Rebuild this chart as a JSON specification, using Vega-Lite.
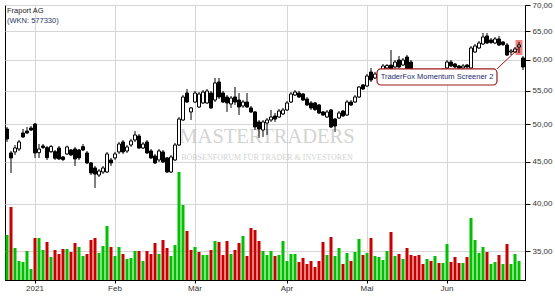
{
  "$schema": "https://vega.github.io/schema/vega-lite/v6.json",
  "width": 520,
  "height": 275,
  "autosize": "none",
  "padding": {"left": 5, "top": 5, "right": 30, "bottom": 20},
  "background": "#ffffff",
  "config": {
    "view": {"stroke": "#000000", "strokeWidth": 1},
    "axis": {"labelFont": "Liberation Sans", "labelFontSize": 8, "labelColor": "#333333", "gridColor": "#d6d6d6", "domainColor": "#000000", "tickColor": "#000000"}
  },
  "data": {"values": [
    {"d":"2020-12-18","o":49.36,"h":49.64,"l":47.59,"c":48.00,"v":450000},
    {"d":"2020-12-21","o":46.14,"h":46.40,"l":43.61,"c":45.50,"v":730000},
    {"d":"2020-12-22","o":46.27,"h":47.19,"l":45.88,"c":46.79,"v":320000},
    {"d":"2020-12-23","o":46.66,"h":47.86,"l":46.40,"c":47.59,"v":190000},
    {"d":"2020-12-28","o":48.81,"h":49.36,"l":48.13,"c":48.27,"v":180000},
    {"d":"2020-12-29","o":49.08,"h":49.64,"l":48.68,"c":48.81,"v":290000},
    {"d":"2020-12-30","o":49.50,"h":49.78,"l":49.08,"c":49.22,"v":110000},
    {"d":"2021-01-04","o":50.06,"h":50.20,"l":45.50,"c":46.14,"v":420000},
    {"d":"2021-01-05","o":46.18,"h":47.32,"l":45.50,"c":46.66,"v":420000},
    {"d":"2021-01-06","o":47.06,"h":47.32,"l":46.66,"c":46.86,"v":300000},
    {"d":"2021-01-07","o":46.83,"h":47.06,"l":45.24,"c":45.53,"v":380000},
    {"d":"2021-01-08","o":46.31,"h":47.19,"l":46.14,"c":46.97,"v":230000},
    {"d":"2021-01-11","o":46.31,"h":46.53,"l":45.24,"c":45.46,"v":300000},
    {"d":"2021-01-12","o":46.79,"h":47.06,"l":45.24,"c":45.37,"v":260000},
    {"d":"2021-01-13","o":45.62,"h":45.75,"l":45.11,"c":45.30,"v":310000},
    {"d":"2021-01-14","o":46.01,"h":47.10,"l":45.88,"c":46.93,"v":310000},
    {"d":"2021-01-15","o":46.53,"h":46.66,"l":45.75,"c":45.88,"v":280000},
    {"d":"2021-01-18","o":46.66,"h":46.93,"l":44.48,"c":45.37,"v":370000},
    {"d":"2021-01-19","o":46.53,"h":46.66,"l":45.24,"c":45.50,"v":330000},
    {"d":"2021-01-20","o":46.97,"h":47.32,"l":46.40,"c":46.53,"v":240000},
    {"d":"2021-01-21","o":46.14,"h":46.40,"l":44.73,"c":44.86,"v":260000},
    {"d":"2021-01-22","o":44.86,"h":44.98,"l":43.36,"c":43.61,"v":400000},
    {"d":"2021-01-25","o":44.23,"h":44.48,"l":41.81,"c":43.48,"v":420000},
    {"d":"2021-01-26","o":43.36,"h":44.10,"l":43.12,"c":43.86,"v":270000},
    {"d":"2021-01-27","o":43.73,"h":44.48,"l":43.48,"c":44.23,"v":340000},
    {"d":"2021-01-28","o":43.73,"h":46.27,"l":43.61,"c":46.01,"v":540000},
    {"d":"2021-01-29","o":45.24,"h":45.50,"l":44.48,"c":44.86,"v":330000},
    {"d":"2021-02-01","o":45.50,"h":46.27,"l":45.24,"c":46.01,"v":240000},
    {"d":"2021-02-02","o":46.27,"h":47.59,"l":46.01,"c":47.32,"v":330000},
    {"d":"2021-02-03","o":47.59,"h":47.86,"l":46.01,"c":46.27,"v":260000},
    {"d":"2021-02-04","o":46.40,"h":47.19,"l":46.14,"c":46.93,"v":210000},
    {"d":"2021-02-05","o":47.19,"h":48.00,"l":46.93,"c":47.73,"v":220000},
    {"d":"2021-02-08","o":47.86,"h":49.08,"l":47.59,"c":48.54,"v":290000},
    {"d":"2021-02-09","o":48.40,"h":48.68,"l":46.66,"c":46.79,"v":290000},
    {"d":"2021-02-10","o":46.79,"h":47.59,"l":46.66,"c":47.32,"v":190000},
    {"d":"2021-02-11","o":47.59,"h":47.86,"l":46.01,"c":46.14,"v":290000},
    {"d":"2021-02-12","o":46.40,"h":46.66,"l":45.37,"c":45.50,"v":260000},
    {"d":"2021-02-15","o":45.75,"h":46.01,"l":44.73,"c":44.86,"v":370000},
    {"d":"2021-02-16","o":45.24,"h":46.66,"l":44.98,"c":46.40,"v":260000},
    {"d":"2021-02-17","o":46.27,"h":46.53,"l":44.86,"c":44.98,"v":400000},
    {"d":"2021-02-18","o":45.50,"h":45.62,"l":43.61,"c":43.73,"v":320000},
    {"d":"2021-02-19","o":43.73,"h":45.88,"l":43.61,"c":45.62,"v":240000},
    {"d":"2021-02-22","o":45.24,"h":47.46,"l":45.11,"c":47.19,"v":350000},
    {"d":"2021-02-23","o":47.19,"h":51.06,"l":47.06,"c":50.77,"v":1080000},
    {"d":"2021-02-24","o":50.63,"h":54.32,"l":50.49,"c":54.02,"v":750000},
    {"d":"2021-02-25","o":54.63,"h":55.25,"l":53.12,"c":53.26,"v":490000},
    {"d":"2021-02-26","o":51.79,"h":52.52,"l":50.63,"c":52.38,"v":300000},
    {"d":"2021-03-01","o":53.26,"h":54.94,"l":53.12,"c":54.63,"v":330000},
    {"d":"2021-03-02","o":52.52,"h":54.78,"l":52.38,"c":54.48,"v":280000},
    {"d":"2021-03-03","o":53.12,"h":55.09,"l":52.97,"c":54.78,"v":250000},
    {"d":"2021-03-04","o":53.12,"h":55.25,"l":52.97,"c":54.94,"v":250000},
    {"d":"2021-03-05","o":54.63,"h":54.94,"l":52.23,"c":52.38,"v":300000},
    {"d":"2021-03-08","o":53.56,"h":56.99,"l":53.26,"c":56.20,"v":390000},
    {"d":"2021-03-09","o":56.35,"h":56.99,"l":53.71,"c":54.02,"v":380000},
    {"d":"2021-03-10","o":54.63,"h":54.94,"l":53.12,"c":53.26,"v":250000},
    {"d":"2021-03-11","o":54.02,"h":54.32,"l":51.79,"c":53.12,"v":390000},
    {"d":"2021-03-12","o":52.97,"h":54.17,"l":52.38,"c":53.86,"v":260000},
    {"d":"2021-03-15","o":54.02,"h":55.56,"l":52.82,"c":53.26,"v":300000},
    {"d":"2021-03-16","o":53.56,"h":54.63,"l":51.35,"c":52.52,"v":370000},
    {"d":"2021-03-17","o":52.67,"h":53.56,"l":52.38,"c":53.26,"v":440000},
    {"d":"2021-03-18","o":53.26,"h":54.63,"l":52.38,"c":52.52,"v":240000},
    {"d":"2021-03-19","o":52.38,"h":52.67,"l":51.64,"c":51.79,"v":520000},
    {"d":"2021-03-22","o":51.79,"h":51.93,"l":49.22,"c":49.64,"v":500000},
    {"d":"2021-03-23","o":50.35,"h":50.63,"l":48.13,"c":49.36,"v":390000},
    {"d":"2021-03-24","o":49.22,"h":50.63,"l":48.27,"c":50.35,"v":290000},
    {"d":"2021-03-25","o":50.20,"h":50.92,"l":48.54,"c":50.63,"v":250000},
    {"d":"2021-03-26","o":50.63,"h":52.08,"l":50.35,"c":51.06,"v":290000},
    {"d":"2021-03-29","o":51.21,"h":51.64,"l":50.35,"c":50.77,"v":240000},
    {"d":"2021-03-30","o":51.06,"h":52.23,"l":50.92,"c":51.93,"v":250000},
    {"d":"2021-03-31","o":51.50,"h":52.38,"l":51.35,"c":52.08,"v":390000},
    {"d":"2021-04-01","o":52.08,"h":53.41,"l":51.93,"c":53.12,"v":190000},
    {"d":"2021-04-06","o":53.26,"h":54.78,"l":53.12,"c":54.48,"v":260000},
    {"d":"2021-04-07","o":54.32,"h":55.09,"l":54.17,"c":54.78,"v":260000},
    {"d":"2021-04-08","o":54.63,"h":54.94,"l":53.86,"c":54.02,"v":180000},
    {"d":"2021-04-09","o":54.48,"h":54.63,"l":53.41,"c":53.56,"v":220000},
    {"d":"2021-04-12","o":53.71,"h":54.02,"l":52.67,"c":52.82,"v":160000},
    {"d":"2021-04-13","o":53.12,"h":53.41,"l":52.08,"c":52.38,"v":190000},
    {"d":"2021-04-14","o":53.12,"h":53.26,"l":51.93,"c":52.16,"v":130000},
    {"d":"2021-04-15","o":52.82,"h":52.97,"l":51.50,"c":51.64,"v":190000},
    {"d":"2021-04-16","o":51.79,"h":51.93,"l":51.21,"c":51.35,"v":380000},
    {"d":"2021-04-19","o":51.06,"h":52.08,"l":50.92,"c":51.79,"v":250000},
    {"d":"2021-04-20","o":52.08,"h":52.23,"l":49.50,"c":49.64,"v":430000},
    {"d":"2021-04-21","o":50.77,"h":50.92,"l":48.95,"c":49.78,"v":240000},
    {"d":"2021-04-22","o":50.92,"h":51.93,"l":50.77,"c":51.64,"v":320000},
    {"d":"2021-04-23","o":51.93,"h":52.08,"l":51.06,"c":51.21,"v":160000},
    {"d":"2021-04-26","o":51.35,"h":53.56,"l":51.21,"c":53.26,"v":270000},
    {"d":"2021-04-27","o":53.26,"h":53.56,"l":52.67,"c":52.82,"v":190000},
    {"d":"2021-04-28","o":53.26,"h":54.32,"l":53.12,"c":54.02,"v":280000},
    {"d":"2021-04-29","o":54.02,"h":55.72,"l":53.86,"c":55.56,"v":410000},
    {"d":"2021-04-30","o":55.88,"h":56.04,"l":55.09,"c":55.25,"v":250000},
    {"d":"2021-05-03","o":55.72,"h":57.63,"l":55.56,"c":57.31,"v":270000},
    {"d":"2021-05-04","o":57.96,"h":58.62,"l":56.35,"c":56.67,"v":420000},
    {"d":"2021-05-05","o":56.99,"h":57.96,"l":56.83,"c":57.63,"v":240000},
    {"d":"2021-05-06","o":57.31,"h":58.46,"l":57.15,"c":58.13,"v":230000},
    {"d":"2021-05-07","o":58.13,"h":59.28,"l":57.96,"c":58.95,"v":200000},
    {"d":"2021-05-10","o":58.62,"h":59.28,"l":58.29,"c":59.03,"v":290000},
    {"d":"2021-05-11","o":59.11,"h":61.67,"l":57.96,"c":58.29,"v":480000},
    {"d":"2021-05-12","o":58.78,"h":59.95,"l":58.62,"c":59.61,"v":240000},
    {"d":"2021-05-13","o":59.95,"h":60.63,"l":58.62,"c":58.78,"v":260000},
    {"d":"2021-05-14","o":59.11,"h":60.29,"l":58.95,"c":59.95,"v":210000},
    {"d":"2021-05-17","o":60.46,"h":60.80,"l":58.13,"c":58.29,"v":320000},
    {"d":"2021-05-18","o":59.61,"h":59.95,"l":57.80,"c":57.96,"v":250000},
    {"d":"2021-05-19","o":58.13,"h":58.29,"l":57.31,"c":57.63,"v":240000},
    {"d":"2021-05-20","o":57.80,"h":57.96,"l":56.99,"c":57.31,"v":250000},
    {"d":"2021-05-21","o":57.47,"h":57.63,"l":56.83,"c":57.15,"v":160000},
    {"d":"2021-05-25","o":57.15,"h":57.80,"l":56.99,"c":57.63,"v":210000},
    {"d":"2021-05-26","o":57.63,"h":57.96,"l":57.15,"c":57.31,"v":190000},
    {"d":"2021-05-27","o":57.31,"h":58.29,"l":57.15,"c":57.96,"v":240000},
    {"d":"2021-05-28","o":57.96,"h":58.29,"l":57.31,"c":57.47,"v":170000},
    {"d":"2021-05-31","o":57.63,"h":58.62,"l":57.47,"c":58.29,"v":170000},
    {"d":"2021-06-01","o":58.62,"h":59.95,"l":58.29,"c":59.61,"v":360000},
    {"d":"2021-06-02","o":59.61,"h":59.95,"l":58.78,"c":58.95,"v":180000},
    {"d":"2021-06-03","o":59.28,"h":59.45,"l":58.62,"c":58.78,"v":230000},
    {"d":"2021-06-04","o":58.95,"h":59.11,"l":58.29,"c":58.62,"v":170000},
    {"d":"2021-06-07","o":58.62,"h":59.28,"l":58.46,"c":58.95,"v":170000},
    {"d":"2021-06-08","o":59.11,"h":59.28,"l":58.46,"c":58.78,"v":230000},
    {"d":"2021-06-09","o":58.62,"h":62.37,"l":58.46,"c":62.02,"v":620000},
    {"d":"2021-06-10","o":61.32,"h":62.72,"l":61.15,"c":62.37,"v":400000},
    {"d":"2021-06-11","o":62.02,"h":63.25,"l":61.84,"c":62.89,"v":270000},
    {"d":"2021-06-14","o":62.72,"h":64.69,"l":62.54,"c":63.97,"v":330000},
    {"d":"2021-06-15","o":64.15,"h":64.69,"l":62.72,"c":62.89,"v":280000},
    {"d":"2021-06-16","o":63.43,"h":63.79,"l":62.72,"c":62.99,"v":160000},
    {"d":"2021-06-17","o":62.89,"h":63.97,"l":62.72,"c":63.61,"v":180000},
    {"d":"2021-06-18","o":63.61,"h":64.15,"l":62.37,"c":62.54,"v":250000},
    {"d":"2021-06-21","o":63.07,"h":63.25,"l":62.37,"c":62.63,"v":160000},
    {"d":"2021-06-22","o":62.54,"h":62.89,"l":60.63,"c":60.80,"v":360000},
    {"d":"2021-06-23","o":61.32,"h":61.84,"l":60.80,"c":61.50,"v":160000},
    {"d":"2021-06-24","o":61.32,"h":62.19,"l":61.15,"c":61.84,"v":260000},
    {"d":"2021-06-25","o":62.19,"h":63.07,"l":61.15,"c":62.54,"v":190000},
    {"d":"2021-06-28","o":60.29,"h":60.63,"l":58.29,"c":58.78,"v":null}
  ]},
  "encoding": {
    "x": {
      "field": "d", "type": "ordinal", "title": null,
      "scale": {"type": "band", "paddingInner": 0, "paddingOuter": 0},
      "axis": {
        "title": null,
        "values": ["2021-01-04", "2021-02-01", "2021-03-01", "2021-04-01", "2021-05-03", "2021-06-01"],
        "labelExpr": "datum.value == '2021-01-04' ? '2021' : datum.value == '2021-02-01' ? 'Feb' : datum.value == '2021-03-01' ? 'Mär' : datum.value == '2021-04-01' ? 'Apr' : datum.value == '2021-05-03' ? 'Mai' : 'Jun'",
        "labelAngle": 0, "grid": true, "tickSize": 3, "labelPadding": 1
      }
    }
  },
  "layer": [
    {
      "transform": [{"window": [{"op": "lag", "field": "c", "as": "pc"}], "sort": [{"field": "d", "order": "ascending"}]}],
      "mark": {"type": "bar", "width": 3},
      "encoding": {
        "y": {"field": "v", "type": "quantitative", "title": null, "scale": {"domain": [0, 2750000]}, "axis": null},
        "color": {"condition": {"test": "datum.pc == null || datum.c >= datum.pc", "value": "#00c000"}, "value": "#c80000"}
      }
    },
    {
      "layer": [
        {
          "data": {"values": [{}]},
          "mark": {"type": "text", "text": "MASTERTRADERS", "font": "Liberation Serif", "fontSize": 20.5, "fill": "#a8a8a8", "opacity": 0.5, "align": "center", "baseline": "alphabetic"},
          "encoding": {"x": {"datum": "2021-03-25"}, "y": {"datum": 47.46}}
        },
        {
          "data": {"values": [{}]},
          "mark": {"type": "text", "text": "BÖRSENFORUM FÜR TRADER & INVESTOREN", "font": "Liberation Serif", "fontSize": 8, "letterSpacing": 0.5, "fill": "#a8a8a8", "opacity": 0.5, "align": "center", "baseline": "alphabetic"},
          "encoding": {"x": {"datum": "2021-03-25"}, "y": {"datum": 45.24}}
        },
        {
          "data": {"values": [{}]},
          "mark": {"type": "bar", "width": 7, "fill": "#f06c6c", "opacity": 0.85},
          "encoding": {"x": {"datum": "2021-06-25"}, "y": {"datum": 63.43}, "y2": {"datum": 60.8}}
        },
        {
          "mark": {"type": "rule", "color": "#000000", "strokeWidth": 1},
          "encoding": {
            "y": {"field": "l", "type": "quantitative", "title": null,
              "scale": {"type": "log", "domain": [32.26, 70], "nice": false, "zero": false},
              "axis": {"orient": "right", "title": null, "values": [35, 40, 45, 50, 55, 60, 65, 70], "labelExpr": "replace(format(datum.value, '.2f'), '.', ',')", "grid": true, "tickSize": 5, "labelPadding": 2, "labelFlush": false, "labelOverlap": false}},
            "y2": {"field": "h"}
          }
        },
        {
          "mark": {"type": "bar", "width": 3, "stroke": "#000000", "strokeWidth": 1},
          "encoding": {
            "y": {"field": "o", "type": "quantitative", "title": null},
            "y2": {"field": "c"},
            "fill": {"condition": {"test": "datum.c >= datum.o", "value": "#ffffff"}, "value": "#000000"}
          }
        },
        {
          "data": {"values": [{}]},
          "mark": {"type": "rule", "color": "#a01818", "strokeWidth": 1},
          "encoding": {"x": {"datum": "2021-06-18", "bandPosition": 0}, "y": {"datum": 58.46}, "x2": {"datum": "2021-06-25"}, "y2": {"datum": 62.0}}
        },
        {
          "data": {"values": [{}]},
          "mark": {"type": "rect", "fill": "#ffffff", "stroke": "#a01818", "strokeWidth": 1.2, "cornerRadius": 4},
          "encoding": {"x": {"datum": "2021-05-06", "bandPosition": 0}, "x2": {"datum": "2021-06-18", "bandPosition": 0}, "y": {"datum": 58.46}, "y2": {"datum": 55.88}}
        },
        {
          "data": {"values": [{}]},
          "mark": {"type": "text", "text": "TraderFox Momentum Screener 2", "font": "Liberation Sans", "fontSize": 7.5, "fill": "#1e2a6e", "align": "center", "baseline": "middle"},
          "encoding": {"x": {"datum": "2021-05-27", "bandPosition": 1}, "y": {"datum": 57.15}}
        },
        {
          "data": {"values": [{}]},
          "mark": {"type": "text", "text": "Fraport AG", "font": "Liberation Sans", "fontSize": 7.5, "fill": "#222222", "align": "left", "baseline": "top"},
          "encoding": {"x": {"datum": "2020-12-18"}, "y": {"datum": 69.61}}
        },
        {
          "data": {"values": [{}]},
          "mark": {"type": "text", "text": "(WKN: 577330)", "font": "Liberation Sans", "fontSize": 7.5, "fill": "#2a3566", "align": "left", "baseline": "top"},
          "encoding": {"x": {"datum": "2020-12-18"}, "y": {"datum": 67.67}}
        }
      ]
    }
  ],
  "resolve": {"scale": {"y": "independent"}}
}
